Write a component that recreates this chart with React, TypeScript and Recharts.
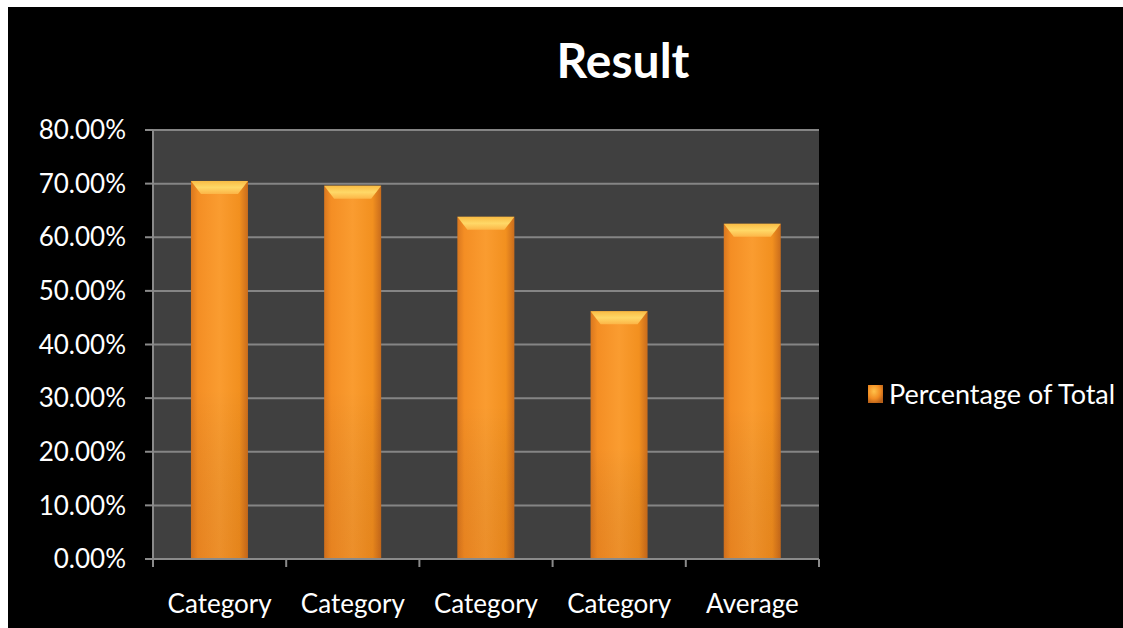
import React from "react";
import { BarChart, Bar, XAxis, YAxis, CartesianGrid, Legend } from "recharts";

const CATEGORIES = ["Category", "Category", "Category", "Category", "Average"];
const PERCENT = [70.5, 69.6, 63.8, 46.2, 62.5];
const Y_TICKS = [0, 10, 20, 30, 40, 50, 60, 70, 80];
const EDGE_TICKS = [0, 1, 2, 3, 4, 5];

const data = CATEGORIES.map((name, i) => ({ name, value: PERCENT[i], slot: i + 0.5 }));

const FONT = "Lato, 'Open Sans', sans-serif";

// bar with the bevelled glossy top used by office charts
function GlossBar(props: any) {
  const { x, y, width, height } = props;
  if (!height || height <= 0) return null;
  const bevel = Math.min(13, height);
  const inset = Math.min(10, width / 4);
  return (
    <g>
      <rect x={x} y={y} width={width} height={height} fill="url(#barSide)" />
      <rect x={x} y={y} width={width} height={height} fill="url(#barShade)" />
      <polygon
        points={`${x},${y} ${x + width},${y} ${x + width - inset},${y + bevel} ${x + inset},${y + bevel}`}
        fill="url(#barTop)"
      />
    </g>
  );
}

function LegendContent() {
  return (
    <div style={{ display: "flex", alignItems: "center", fontFamily: FONT, fontSize: 27, color: "#fff", whiteSpace: "nowrap" }}>
      <svg width={15} height={18} style={{ marginRight: 6 }}>
        <defs>
          <radialGradient id="swatch" cx="40%" cy="35%" r="70%">
            <stop offset="0%" stopColor="#FFC24A" />
            <stop offset="60%" stopColor="#F28C22" />
            <stop offset="100%" stopColor="#B8611A" />
          </radialGradient>
        </defs>
        <rect x={0} y={0} width={15} height={18} fill="url(#swatch)" />
      </svg>
      <span>Percentage of Total</span>
    </div>
  );
}

export default function App() {
  return (
    <div style={{ position: "absolute", left: 8, top: 7, width: 1115, height: 621, background: "#000", overflow: "hidden" }}>
      <div
        style={{
          position: "absolute",
          left: 0,
          width: 1230,
          top: 24,
          textAlign: "center",
          fontFamily: FONT,
          fontWeight: 700,
          fontSize: 48,
          color: "#fff",
        }}
      >
        Result
      </div>
      <BarChart
        width={1115}
        height={621}
        data={data}
        margin={{ top: 123, right: 304, left: 0, bottom: 0 }}
        barCategoryGap="28.5%"
      >
        <defs>
          <linearGradient id="barSide" x1="0" y1="0" x2="1" y2="0">
            <stop offset="0%" stopColor="#D9771F" />
            <stop offset="12%" stopColor="#F48E24" />
            <stop offset="50%" stopColor="#FA9C30" />
            <stop offset="85%" stopColor="#F2901F" />
            <stop offset="100%" stopColor="#C96C1C" />
          </linearGradient>
          <linearGradient id="barShade" x1="0" y1="0" x2="0" y2="1">
            <stop offset="0%" stopColor="#000" stopOpacity={0} />
            <stop offset="55%" stopColor="#000" stopOpacity={0} />
            <stop offset="100%" stopColor="#8A3000" stopOpacity={0.12} />
          </linearGradient>
          <linearGradient id="barTop" x1="0" y1="0" x2="0" y2="1">
            <stop offset="0%" stopColor="#F9BC44" />
            <stop offset="50%" stopColor="#FFD867" />
            <stop offset="100%" stopColor="#FCB547" />
          </linearGradient>
        </defs>
        <CartesianGrid fill="#404040" stroke="#858585" strokeWidth={2} vertical={false} yAxisId="y" xAxisId="b" />
        <XAxis
          xAxisId="b"
          dataKey="name"
          height={68}
          axisLine={false}
          tickLine={false}
          tickMargin={29}
          tick={{ fill: "#fff", fontSize: 26, fontFamily: FONT }}
          interval={0}
        />
        <XAxis
          xAxisId="a"
          type="number"
          dataKey="slot"
          domain={[0, 5]}
          ticks={EDGE_TICKS}
          tickFormatter={() => ""}
          tickSize={8}
          height={1}
          stroke="#8A8A8A"
          strokeWidth={2}
        />
        <YAxis
          yAxisId="y"
          domain={[0, 80]}
          ticks={Y_TICKS}
          width={145}
          tickSize={8}
          tickMargin={19}
          stroke="#8A8A8A"
          strokeWidth={2}
          tickFormatter={(v: number) => `${v.toFixed(2)}%`}
          tick={{ fill: "#fff", fontSize: 26, fontFamily: FONT }}
        />
        <Legend
          layout="vertical"
          align="center"
          verticalAlign="middle"
          content={<LegendContent />}
          wrapperStyle={{ left: 860, top: 370, width: 260 }}
        />
        <Bar
          dataKey="value"
          name="Percentage of Total"
          xAxisId="b"
          yAxisId="y"
          shape={<GlossBar />}
          isAnimationActive={false}
        />
      </BarChart>
    </div>
  );
}
